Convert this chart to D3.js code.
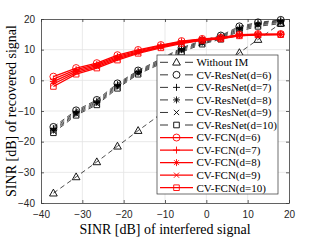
<!DOCTYPE html>
<html>
<head>
<meta charset="utf-8">
<script src="https://cdn.jsdelivr.net/npm/d3@7"></script>
<style>
  body { margin: 0; background: #fff; }
  svg { display: block; }
</style>
</head>
<body>
<div id="chart"></div>
<script>
// SINR of interfered signal (x) for every curve
const sinrIn = [-37, -31.5, -26.5, -21.5, -16.5, -11, -6, -1, 3.5, 8, 12.5, 18];

const withoutIM = [-36.8, -31.5, -26.6, -21.5, -16.4, -11, -6, -1, 3.8, 9.0, 13.3, 18.6];

const resnet6  = [-15.2, -9.8, -6.4, -1.0, 3.2, 7.0, 10.6, 13.0, 14.6, 17.6, 18.9, 19.7];
const resnet7  = [-15.7, -10.2, -6.8, -1.4, 2.9, 6.6, 10.3, 12.7, 14.3, 17.2, 18.6, 19.5];
const resnet8  = [-16.2, -10.6, -7.2, -1.8, 2.6, 6.2, 10.0, 12.4, 14.0, 16.8, 18.3, 19.2];
const resnet9  = [-16.6, -11.0, -7.6, -2.2, 2.3, 5.8, 9.6, 12.1, 13.7, 16.4, 18.0, 18.9];
const resnet10 = [-17.1, -11.4, -8.0, -2.6, 2.0, 5.4, 9.2, 11.8, 13.4, 16.0, 17.6, 18.5];

const fcn6  = [1.2, 4.0, 5.6, 8.2, 9.9, 11.5, 12.8, 13.5, 13.9, 14.9, 15.1, 15.1];
const fcn7  = [0.4, 3.5, 5.2, 7.8, 9.6, 11.3, 12.6, 13.4, 13.8, 14.8, 15.0, 15.0];
const fcn8  = [-0.4, 3.0, 4.8, 7.4, 9.3, 11.0, 12.4, 13.3, 13.7, 14.7, 14.9, 15.0];
const fcn9  = [-1.2, 2.5, 4.4, 7.0, 9.0, 10.8, 12.2, 13.1, 13.6, 14.6, 14.8, 14.9];
const fcn10 = [-2.0, 2.0, 4.0, 6.6, 8.8, 10.6, 12.0, 13.0, 13.5, 14.5, 14.8, 14.9];

const xTicks = [-40, -30, -20, -10, 0, 10, 20];
const yTicks = [-40, -30, -20, -10, 0, 10, 20];

const series = [
  { name: "Without IM",        values: withoutIM, color: "#000", marker: "triangle", dashed: true },
  { name: "CV-ResNet(d=6)",    values: resnet6,   color: "#000", marker: "circle",   dashed: true },
  { name: "CV-ResNet(d=7)",    values: resnet7,   color: "#000", marker: "plus",     dashed: true },
  { name: "CV-ResNet(d=8)",    values: resnet8,   color: "#000", marker: "star",     dashed: true },
  { name: "CV-ResNet(d=9)",    values: resnet9,   color: "#000", marker: "cross",    dashed: true },
  { name: "CV-ResNet(d=10)",   values: resnet10,  color: "#000", marker: "square",   dashed: true },
  { name: "CV-FCN(d=6)",       values: fcn6,      color: "#ff0000", marker: "circle", dashed: false },
  { name: "CV-FCN(d=7)",       values: fcn7,      color: "#ff0000", marker: "plus",   dashed: false },
  { name: "CV-FCN(d=8)",       values: fcn8,      color: "#ff0000", marker: "star",   dashed: false },
  { name: "CV-FCN(d=9)",       values: fcn9,      color: "#ff0000", marker: "cross",  dashed: false },
  { name: "CV-FCN(d=10)",      values: fcn10,     color: "#ff0000", marker: "square", dashed: false }
];

const config = { width: 320, height: 240, left: 41, right: 31, top: 19, bottom: 37 };
const w = config.width - config.left - config.right;
const h = config.height - config.top - config.bottom;

const svg = d3.select("#chart")
  .append("svg")
  .attr("width", config.width)
  .attr("height", config.height);

const g = svg.append("g")
  .attr("transform", `translate(${config.left},${config.top})`);

const xScale = d3.scaleLinear().domain([-40, 20]).range([0, w]);
const yScale = d3.scaleLinear().domain([-40, 20]).range([h, 0]);

// grid
g.append("g").selectAll("line")
  .data(xTicks.slice(1, -1))
  .enter().append("line")
    .attr("x1", d => xScale(d)).attr("x2", d => xScale(d))
    .attr("y1", 0).attr("y2", h)
    .attr("stroke", "#e3e3e3").attr("stroke-width", 0.8);
g.append("g").selectAll("line")
  .data(yTicks.slice(1, -1))
  .enter().append("line")
    .attr("y1", d => yScale(d)).attr("y2", d => yScale(d))
    .attr("x1", 0).attr("x2", w)
    .attr("stroke", "#e3e3e3").attr("stroke-width", 0.8);

// axes, MATLAB style: ticks inward on all four sides
const tickFont = "'Liberation Sans', Arial, sans-serif";
function styleAxis(sel) {
  sel.select(".domain").attr("stroke", "#3a3a3a").attr("stroke-width", 0.8);
  sel.selectAll(".tick line").attr("stroke", "#3a3a3a").attr("stroke-width", 0.8);
  sel.selectAll("text").attr("fill", "#262626").style("font-family", tickFont).style("font-size", "10px");
}

g.append("g")
  .attr("transform", `translate(0,${h})`)
  .call(d3.axisBottom(xScale).tickValues(xTicks).tickSize(-3).tickPadding(8).tickSizeOuter(0))
  .call(styleAxis);
g.append("g")
  .call(d3.axisTop(xScale).tickValues(xTicks).tickSize(-3).tickFormat("").tickSizeOuter(0))
  .call(styleAxis);
g.append("g")
  .call(d3.axisLeft(yScale).tickValues(yTicks).tickSize(-3).tickPadding(6).tickSizeOuter(0))
  .call(styleAxis);
g.append("g")
  .attr("transform", `translate(${w},0)`)
  .call(d3.axisRight(yScale).tickValues(yTicks).tickSize(-3).tickFormat("").tickSizeOuter(0))
  .call(styleAxis);

// markers
function markerPath(type, r) {
  const p = d3.path();
  if (type === "circle") {
    p.moveTo(r, 0); p.arc(0, 0, r, 0, 2 * Math.PI);
  } else if (type === "triangle") {
    p.moveTo(0, -r * 1.15); p.lineTo(r * 1.1, r * 0.8); p.lineTo(-r * 1.1, r * 0.8); p.closePath();
  } else if (type === "square") {
    p.rect(-r * 0.8, -r * 0.8, r * 1.6, r * 1.6);
  } else if (type === "plus") {
    p.moveTo(-r, 0); p.lineTo(r, 0); p.moveTo(0, -r); p.lineTo(0, r);
  } else if (type === "cross") {
    const k = r * 0.75;
    p.moveTo(-k, -k); p.lineTo(k, k); p.moveTo(-k, k); p.lineTo(k, -k);
  } else if (type === "star") {
    const k = r * 0.7;
    p.moveTo(-r, 0); p.lineTo(r, 0); p.moveTo(0, -r); p.lineTo(0, r);
    p.moveTo(-k, -k); p.lineTo(k, k); p.moveTo(-k, k); p.lineTo(k, -k);
  }
  return p.toString();
}

const line = d3.line()
  .x((d, i) => xScale(sinrIn[i]))
  .y(d => yScale(d));

const plot = g.append("g");
series.forEach(s => {
  plot.append("path")
    .datum(s.values)
    .attr("d", line)
    .attr("fill", "none")
    .attr("stroke", s.color)
    .attr("stroke-width", s.dashed ? 0.7 : 1.3)
    .attr("stroke-dasharray", s.dashed ? "5,3.5" : null);
  plot.append("g").selectAll("path")
    .data(s.values)
    .enter().append("path")
      .attr("transform", (d, i) => `translate(${xScale(sinrIn[i])},${yScale(d)})`)
      .attr("d", markerPath(s.marker, 3.5))
      .attr("fill", "none")
      .attr("stroke", s.color)
      .attr("stroke-width", 0.9);
});

// legend
const serif = "'Liberation Serif', 'Times New Roman', serif";
const legend = svg.append("g").attr("transform", "translate(157,55)");
legend.append("rect")
  .attr("width", 121).attr("height", 139)
  .attr("fill", "#fff").attr("stroke", "#333").attr("stroke-width", 0.7);

const rows = legend.selectAll("g.row")
  .data(series)
  .enter().append("g")
    .attr("class", "row")
    .attr("transform", (d, i) => `translate(0,${7.3 + i * 12.54})`);
rows.append("line")
  .attr("x1", 3).attr("x2", 36)
  .attr("stroke", d => d.color)
  .attr("stroke-width", d => d.dashed ? 0.8 : 1.2)
  .attr("stroke-dasharray", d => d.dashed ? "8,17" : null);
rows.append("path")
  .attr("transform", "translate(19.5,0)")
  .attr("d", d => markerPath(d.marker, 3.5))
  .attr("fill", "none")
  .attr("stroke", d => d.color)
  .attr("stroke-width", 0.9);
rows.append("text")
  .attr("x", 39.5).attr("y", 0).attr("dy", "0.35em")
  .style("font-family", serif).style("font-size", "11px")
  .attr("fill", "#000")
  .text(d => d.name);

// axis titles
svg.append("text")
  .attr("x", config.left + w / 2).attr("y", 234)
  .attr("text-anchor", "middle")
  .style("font-family", serif).style("font-size", "14px")
  .attr("fill", "#000")
  .text("SINR [dB] of interfered signal");

svg.append("text")
  .attr("transform", `translate(16,${config.top + h / 2}) rotate(-90)`)
  .attr("text-anchor", "middle")
  .style("font-family", serif).style("font-size", "14px")
  .attr("fill", "#000")
  .text("SINR [dB] of recovered signal");
</script>
</body>
</html>
